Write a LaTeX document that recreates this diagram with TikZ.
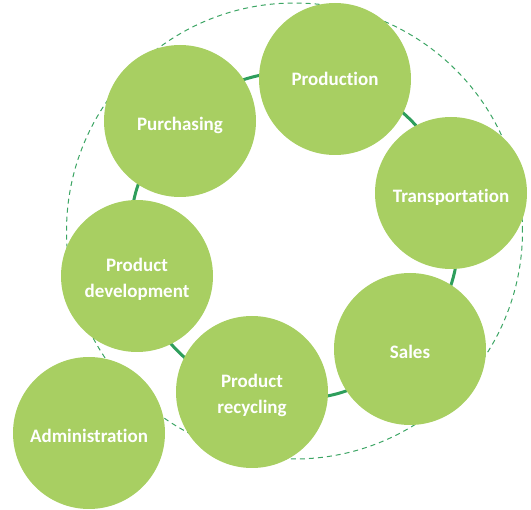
\documentclass[tikz,border=0pt]{standalone}
\usepackage{fontspec}
\setmainfont{Carlito}[Ligatures=CommonOff]
\usetikzlibrary{backgrounds}
\definecolor{leaf}{RGB}{168,207,98}
\definecolor{linkc}{RGB}{46,158,92}
\definecolor{ringc}{RGB}{60,165,100}
\begin{document}
\begin{tikzpicture}[x=1pt,y=-1pt,
  bubble/.style={circle,fill=leaf,minimum size=152pt,inner sep=0pt},
  onetext/.style={text=white,font=\bfseries\fontsize{19}{26}\selectfont,text height=13pt,text depth=4pt,yshift=-5.5pt},
  twotext/.style={text=white,font=\bfseries\fontsize{19}{26}\selectfont,align=center,yshift=-3.4pt},
  linkline/.style={draw=linkc,line width=3pt},
  dashring/.style={draw=ringc,line width=1pt,dash pattern=on 5pt off 4pt}]
\useasboundingbox (0,0) rectangle (531,510);
\node[bubble,label={[onetext,yshift=3pt]center:Production}] (prod) at (335,79) {};
\node[bubble,label={[onetext]center:Purchasing}]     (purch) at (180,121) {};
\node[bubble,label={[onetext]center:Transportation}] (trans) at (451,193) {};
\node[bubble,label={[twotext]center:Product\\development}] (dev) at (137,276) {};
\node[bubble,label={[onetext]center:Sales}]          (sales) at (410,349) {};
\node[bubble,label={[twotext]center:Product\\recycling}]   (recy) at (252,392) {};
\node[bubble,label={[onetext]center:Administration}] (admin) at (89,433)  {};
\coordinate (ringcenter) at (294.5,231);
\begin{scope}[on background layer]
  \draw[dashring] (ringcenter) circle[radius=228pt];
  \draw[linkline] (purch.center) to[bend left=30] (prod.center);
  \draw[linkline] (prod.center) to[bend left=30] (trans.center);
  \draw[linkline] (trans.center) to[bend left=30] (sales.center);
  \draw[linkline] (sales.center) to[bend left=30] (recy.center);
  \draw[linkline] (recy.center) to[bend left=30] (dev.center);
  \draw[linkline] (dev.center) to[bend left=30] (purch.center);
\end{scope}
\end{tikzpicture}
\end{document}
